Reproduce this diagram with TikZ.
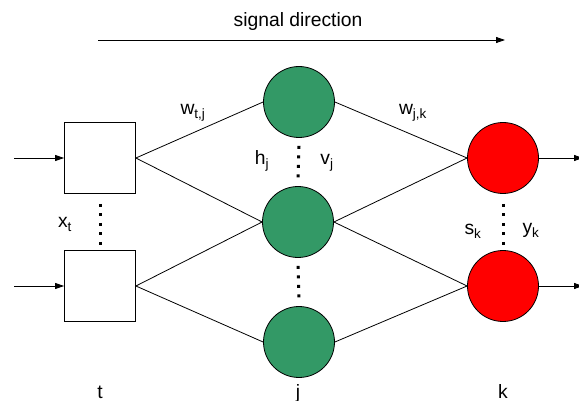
\documentclass[tikz,border=0pt]{standalone}
\usepackage{fontspec}
\setmainfont{Liberation Sans}
\usetikzlibrary{arrows.meta}
\begin{document}
\begin{tikzpicture}[x=1pt,y=-1pt,
  lbl/.style={font=\fontsize{19.3}{22}\selectfont, inner sep=0pt, anchor=base},
  sq/.style={draw, line width=0.8pt, minimum size=71pt, inner sep=0pt},
  gn/.style={circle, draw, line width=0.8pt, fill=gfill, minimum size=71pt, inner sep=0pt},
  rn/.style={circle, draw, line width=0.8pt, fill=red, minimum size=71pt, inner sep=0pt},
  edge/.style={line width=0.8pt},
  arr/.style={line width=0.8pt, -{Triangle[length=9pt,width=6pt]}},
  sqdots/.style={line width=3pt, dash pattern=on 3pt off 6.5pt}]
\useasboundingbox (0,0) rectangle (579,401);
\definecolor{gfill}{RGB}{51,153,102}
% signal direction
\coordinate (s0) at (98,40);
\coordinate (s1) at (505,40);
\draw[arr] (s0) -- (s1);
\node[lbl] (sig) at (298,27) {signal direction};
% nodes
\node[sq] (t1) at (100,158) {};
\node[sq] (t2) at (100,286) {};
\node[gn] (j1) at (299,102) {};
\node[gn] (j2) at (298,222) {};
\node[gn] (j3) at (299,342) {};
\node[rn] (k1) at (503,158) {};
\node[rn] (k2) at (503,286) {};
% inputs / outputs
\coordinate (i1) at (14,158);
\coordinate (i2) at (14,286);
\coordinate (o1) at (583,158);
\coordinate (o2) at (583,286);
\draw[arr] (i1) -- (t1.west);
\draw[arr] (i2) -- (t2.west);
\draw[arr] (k1.east) -- (o1);
\draw[arr] (k2.east) -- (o2);
% edges
\draw[edge] (t1.east) -- (j1.west);
\draw[edge] (t1.east) -- (j2.west);
\draw[edge] (t2.east) -- (j2.west);
\draw[edge] (t2.east) -- (j3.west);
\draw[edge] (j1.east) -- (k1.west);
\draw[edge] (j2.east) -- (k1.west);
\draw[edge] (j2.east) -- (k2.west);
\draw[edge] (j3.east) -- (k2.west);
% dots
\draw[sqdots] ([yshift=-10pt]t1.south) -- ([yshift=5pt]t2.north);
\draw[sqdots] ([yshift=-8pt]j1.south) -- ([yshift=3pt]j2.north);
\draw[sqdots] ([yshift=-8pt]j2.south) -- ([yshift=3pt]j3.north);
\draw[sqdots] ([yshift=-10pt]k1.south) -- ([yshift=5pt]k2.north);
% labels
\node[lbl] (wtj) at (193,115) {w\textsubscript{t,j}};
\node[lbl] (wjk) at (413,115) {w\textsubscript{j,k}};
\node[lbl] (hj) at (262,165) {h\textsubscript{j}};
\node[lbl] (vj) at (327,165) {v\textsubscript{j}};
\node[lbl] (xt) at (65,228) {x\textsubscript{t}};
\node[lbl] (sk) at (473,235) {s\textsubscript{k}};
\node[lbl] (yk) at (531,234) {y\textsubscript{k}};
\node[lbl] (lt) at (100,398) {t};
\node[lbl] (lj) at (298,398) {j};
\node[lbl] (lk) at (503,398) {k};
\end{tikzpicture}
\end{document}
